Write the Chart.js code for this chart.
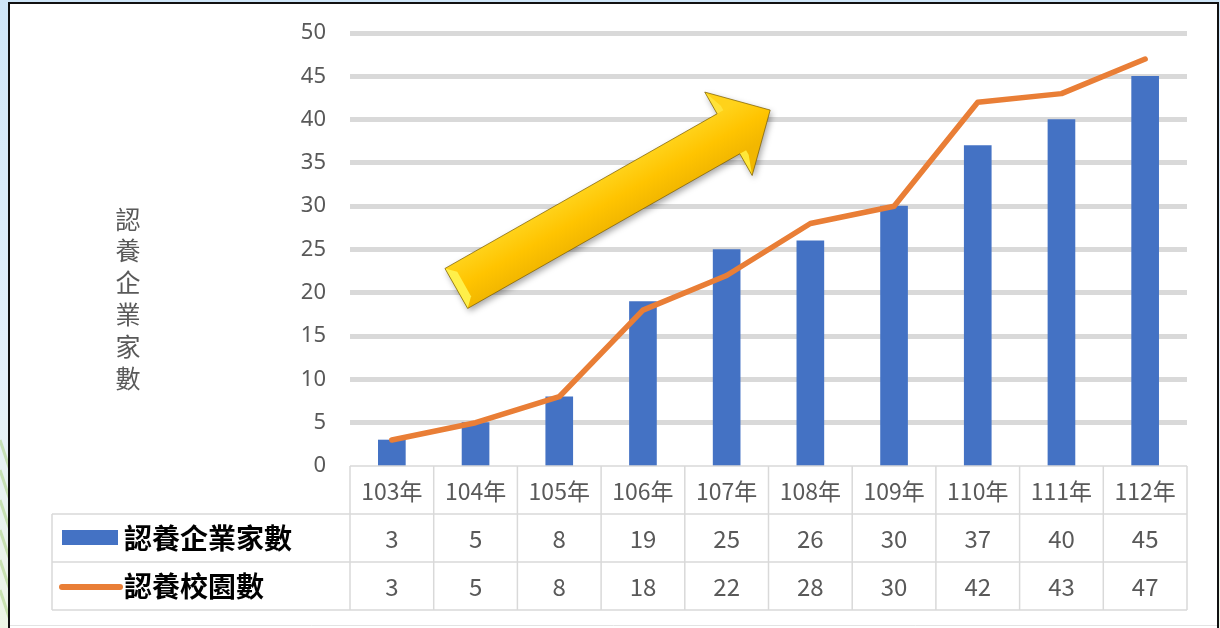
<!DOCTYPE html>
<html>
<head>
<meta charset="utf-8">
<script src="https://cdn.jsdelivr.net/npm/chart.js@4.4.1/dist/chart.umd.min.js"></script>
<style>
  html, body { margin: 0; padding: 0; background: #ffffff; }
  #wrap { width: 1220px; height: 628px; position: relative; }
  canvas { display: block; }
</style>
</head>
<body>
<div id="wrap"><canvas id="c" width="1220" height="628"></canvas></div>
<script>
// ---- data ----
const categories = ['103年','104年','105年','106年','107年','108年','109年','110年','111年','112年'];
const companyCounts = [3, 5, 8, 19, 25, 26, 30, 37, 40, 45];
const campusCounts  = [3, 5, 8, 18, 22, 28, 30, 42, 43, 47];
const seriesNames = ['認養企業家數', '認養校園數'];
const yAxisTitle = '認養企業家數';
const yMin = 0, yMax = 50, yStep = 5;

// ---- styles ----
const BLUE = '#4472C4';
const ORANGE = '#E97E36';
const GRID = '#d9d9d9';
const TEXT = '#595959';
const CJK = '"Noto Sans CJK TC", "Noto Sans", sans-serif';

const framePlugin = {
  id: 'frame',
  beforeDraw(chart) {
    const ctx = chart.ctx;
    const W = chart.width, H = chart.height;
    ctx.save();
    const g = ctx.createLinearGradient(0, 0, 0, H);
    g.addColorStop(0, '#cfe6f8');
    g.addColorStop(0.6, '#e3f0fa');
    g.addColorStop(1, '#eef6e6');
    ctx.fillStyle = g;
    ctx.fillRect(0, 0, W, H);
    ctx.strokeStyle = 'rgba(170,210,130,0.55)';
    ctx.lineWidth = 3;
    for (let k = 0; k < 6; k++) {
      ctx.beginPath();
      ctx.moveTo(0, 440 + k * 30);
      ctx.lineTo(10, 470 + k * 30);
      ctx.stroke();
    }
    ctx.fillStyle = '#ffffff';
    ctx.fillRect(10, 4, W - 12, H - 4);
    ctx.strokeStyle = '#111111';
    ctx.lineWidth = 2;
    ctx.beginPath();
    ctx.moveTo(9, H);
    ctx.lineTo(9, 3);
    ctx.lineTo(1218, 3);
    ctx.lineTo(1218, H);
    ctx.stroke();
    ctx.strokeStyle = '#e3e3e3';
    ctx.lineWidth = 1;
    ctx.beginPath();
    ctx.moveTo(10, 625.5);
    ctx.lineTo(1217, 625.5);
    ctx.stroke();
    ctx.restore();
  }
};

const tablePlugin = {
  id: 'dataTable',
  afterDraw(chart) {
    const ctx = chart.ctx;
    const x = chart.scales.x;
    const area = chart.chartArea;
    const n = categories.length;
    const rowH = 48;
    const top = area.bottom;
    const legendLeft = 52;
    ctx.save();
    ctx.strokeStyle = GRID;
    ctx.lineWidth = 1.5;
    const hline = (y, x0, x1) => { ctx.beginPath(); ctx.moveTo(x0, y); ctx.lineTo(x1, y); ctx.stroke(); };
    const vline = (xx, y0, y1) => { ctx.beginPath(); ctx.moveTo(xx, y0); ctx.lineTo(xx, y1); ctx.stroke(); };
    hline(top, area.left, area.right);
    hline(top + rowH, legendLeft, area.right);
    hline(top + 2 * rowH, legendLeft, area.right);
    hline(top + 3 * rowH, legendLeft, area.right);
    for (let i = 0; i <= n; i++) {
      const px = x.getPixelForValue(i - 0.5);
      vline(px, top, top + 3 * rowH);
    }
    vline(legendLeft, top + rowH, top + 3 * rowH);

    ctx.fillStyle = TEXT;
    ctx.textAlign = 'center';
    ctx.textBaseline = 'middle';
    for (let i = 0; i < n; i++) {
      const cx = x.getPixelForValue(i);
      ctx.font = '23px ' + CJK;
      ctx.fillText(categories[i], cx, top + rowH / 2 + 1);
      ctx.font = '24px ' + CJK;
      ctx.fillText(String(companyCounts[i]), cx, top + rowH * 1.5 + 1);
      ctx.fillText(String(campusCounts[i]), cx, top + rowH * 2.5 + 1);
    }
    const y1 = top + rowH * 1.5, y2 = top + rowH * 2.5;
    ctx.fillStyle = BLUE;
    ctx.fillRect(62, y1 - 8, 56, 15);
    ctx.strokeStyle = ORANGE;
    ctx.lineWidth = 6;
    ctx.lineCap = 'round';
    ctx.beginPath();
    ctx.moveTo(62, y2 + 1);
    ctx.lineTo(120, y2 + 1);
    ctx.stroke();
    ctx.fillStyle = '#000000';
    ctx.font = 'bold 28px ' + CJK;
    ctx.textAlign = 'left';
    ctx.fillText(seriesNames[0], 124, y1);
    ctx.fillText(seriesNames[1], 124, y2);

    ctx.fillStyle = TEXT;
    ctx.font = '25px ' + CJK;
    ctx.textAlign = 'center';
    const chars = Array.from(yAxisTitle);
    const step = 31.8;
    const startY = 219;
    chars.forEach((ch, k) => ctx.fillText(ch, 128, startY + k * step));
    ctx.restore();
  }
};

const arrowPlugin = {
  id: 'trendArrow',
  afterDatasetsDraw(chart) {
    const ctx = chart.ctx;
    const x = chart.scales.x, y = chart.scales.y;
    const tx = x.getPixelForValue(0.77), ty = y.getPixelForValue(20.5);
    const hx = x.getPixelForValue(4.52), hy = y.getPixelForValue(41.1);
    const dx = hx - tx, dy = hy - ty;
    const len = Math.hypot(dx, dy);
    const ux = dx / len, uy = dy / len;
    const nx = -uy, ny = ux;
    const shaftW = 46, headW = 96, headL = 48;
    const P = (a, b) => [tx + ux * a + nx * b, ty + uy * a + ny * b];
    const bodyL = len - headL;
    const pts = [
      P(0, shaftW / 2), P(bodyL, shaftW / 2), P(bodyL, headW / 2),
      P(len, 0),
      P(bodyL, -headW / 2), P(bodyL, -shaftW / 2), P(0, -shaftW / 2)
    ];
    ctx.save();
    ctx.shadowColor = 'rgba(0,0,0,0.35)';
    ctx.shadowBlur = 6;
    ctx.shadowOffsetX = 2;
    ctx.shadowOffsetY = 3;
    const grad = ctx.createLinearGradient(...P(0, -shaftW / 2), ...P(0, shaftW / 2));
    grad.addColorStop(0, '#ffd21a');
    grad.addColorStop(0.5, '#ffc400');
    grad.addColorStop(1, '#f2b700');
    ctx.fillStyle = grad;
    ctx.beginPath();
    pts.forEach((p, i) => i ? ctx.lineTo(p[0], p[1]) : ctx.moveTo(p[0], p[1]));
    ctx.closePath();
    ctx.fill();
    ctx.shadowColor = 'transparent';
    const b = 9;
    const facet = (arr, color) => {
      ctx.fillStyle = color;
      ctx.beginPath();
      arr.forEach((p, i) => i ? ctx.lineTo(p[0], p[1]) : ctx.moveTo(p[0], p[1]));
      ctx.closePath();
      ctx.fill();
    };
    facet([P(0, shaftW / 2), P(b, shaftW / 2 - b), P(b, -shaftW / 2 + b), P(0, -shaftW / 2)], '#fff04a');
    facet([P(bodyL, headW / 2), P(bodyL + b * 0.8, headW / 2 - b * 2.2), P(bodyL + b * 0.8, shaftW / 2), P(bodyL, shaftW / 2)], '#ffe83a');
    facet([P(bodyL, -headW / 2), P(bodyL + b * 0.8, -headW / 2 + b * 2.2), P(bodyL + b * 0.8, -shaftW / 2), P(bodyL, -shaftW / 2)], '#ffe23a');
    ctx.strokeStyle = 'rgba(120,90,0,0.7)';
    ctx.lineWidth = 1;
    ctx.beginPath();
    pts.forEach((p, i) => i ? ctx.lineTo(p[0], p[1]) : ctx.moveTo(p[0], p[1]));
    ctx.closePath();
    ctx.stroke();
    ctx.restore();
  }
};

new Chart(document.getElementById('c'), {
  data: {
    labels: categories,
    datasets: [
      {
        type: 'line',
        label: seriesNames[1],
        data: campusCounts,
        borderColor: ORANGE,
        borderWidth: 5.5,
        pointRadius: 0,
        tension: 0,
        borderJoinStyle: 'round',
        borderCapStyle: 'round',
        order: 0
      },
      {
        type: 'bar',
        label: seriesNames[0],
        data: companyCounts,
        backgroundColor: BLUE,
        barThickness: 27,
        order: 1
      }
    ]
  },
  options: {
    responsive: false,
    animation: false,
    devicePixelRatio: 1,
    layout: { padding: { left: 0, top: 33, right: 33, bottom: 162 } },
    plugins: {
      legend: { display: false },
      tooltip: { enabled: false },
      title: { display: false }
    },
    scales: {
      x: {
        display: false,
        offset: true,
        grid: { display: false }
      },
      y: {
        min: yMin,
        max: yMax,
        afterFit(scale) { scale.width = 350; },
        ticks: {
          stepSize: yStep,
          color: TEXT,
          padding: 24,
          font: { family: 'Noto Sans, sans-serif', size: 22, lineHeight: 0.75 }
        },
        grid: {
          drawTicks: false,
          color: GRID,
          lineWidth: (c) => (c.tick && c.tick.value === 0 ? 0 : 5)
        },
        border: { display: false }
      }
    }
  },
  plugins: [framePlugin, tablePlugin, arrowPlugin]
});
</script>
</body>
</html>
